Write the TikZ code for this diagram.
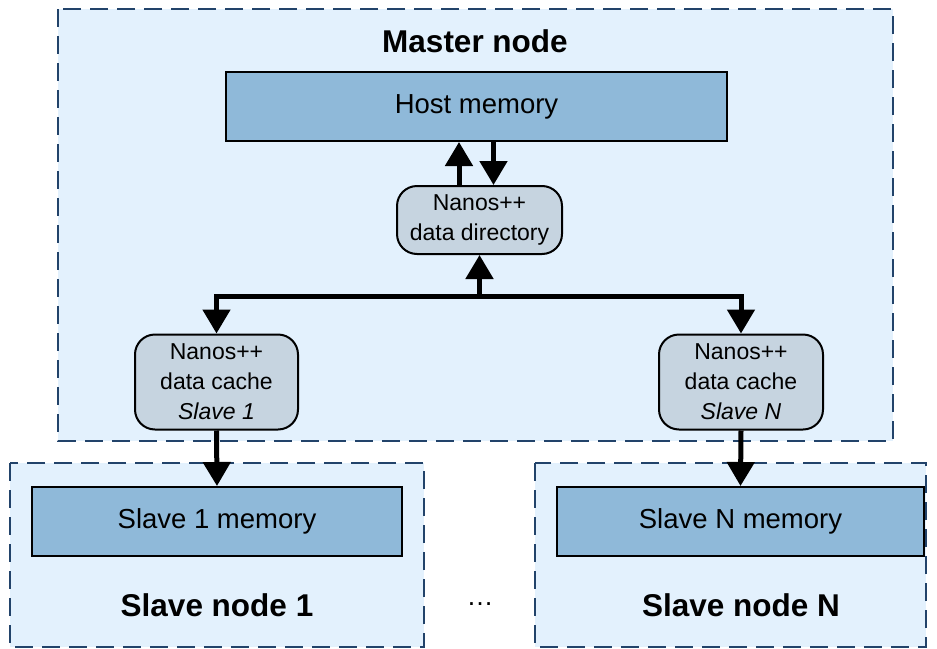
\documentclass[tikz,border=0pt]{standalone}
\usepackage{fontspec}
\setmainfont{Liberation Sans}
\usetikzlibrary{arrows.meta,calc}
\definecolor{lightbg}{HTML}{E3F1FD}
\definecolor{dashcol}{HTML}{22436A}
\definecolor{memfill}{HTML}{8FB9D9}
\definecolor{cachefill}{HTML}{C6D4E0}
\tikzset{
  region/.style={draw=dashcol, fill=lightbg, line width=2pt, dash pattern=on 18pt off 9pt},
  membox/.style={draw=black, fill=memfill, line width=2pt, inner sep=0pt,
    font=\fontsize{27.5}{32}\selectfont},
  cachebox/.style={draw=black, fill=cachefill, line width=2pt, rounded corners=20pt, inner sep=0pt,
    align=center, font=\fontsize{23}{30}\selectfont},
  title/.style={font=\fontsize{31.5}{36}\selectfont\bfseries},
  arr/.style={line width=5pt, -{Triangle[width=27pt,length=24pt]}},
}
\begin{document}
\begin{tikzpicture}[x=1pt,y=-1pt]
\useasboundingbox (0,0) rectangle (937,648);
% regions
\draw[region] (58,9) rectangle (893,441);
\draw[region] (10,463) rectangle (424,647);
\draw[region] (535,463) rectangle (926,647);
% titles
\node[title] (mtitle) at (475,41) {Master node};
\node[title] (s1title) at (217,605) {Slave node 1};
\node[title] (sNtitle) at (741,605) {Slave node N};
\node[font=\fontsize{27}{30}\selectfont] (dots) at (480,604) {\dots};
% boxes
\node[membox, minimum width=501pt, minimum height=69pt] (host) at (476.5,106.5) {Host memory};
\node[cachebox, minimum width=165pt, minimum height=68pt] (dir) at (479.5,220) {Nanos++\\data directory};
\node[cachebox, minimum width=163pt, minimum height=95pt] (c1) at (216.5,382) {Nanos++\\data cache\\\textit{Slave 1}};
\node[cachebox, minimum width=164pt, minimum height=95pt] (cN) at (741,382) {Nanos++\\data cache\\\textit{Slave N}};
\node[membox, minimum width=370pt, minimum height=69pt] (m1) at (217,521.5) {Slave 1 memory};
\node[membox, minimum width=367pt, minimum height=69pt] (mN) at (740.5,521.5) {Slave N memory};
% connectors
\coordinate (bus) at (479.5,296);
\draw[arr] ([xshift=-20.5pt]dir.north) -- ([xshift=-20.5pt]dir.north |- host.south);
\draw[arr] ([xshift=14pt]dir.north |- host.south) -- ([xshift=14pt]dir.north);
\draw[arr] (bus) -- (dir.south);
\draw[arr] (bus) -| (c1.north);
\draw[arr] (bus) -| (cN.north);
\draw[arr] (c1.south) -- (m1.north);
\draw[arr] (cN.south) -- (mN.north);
\end{tikzpicture}
\end{document}
